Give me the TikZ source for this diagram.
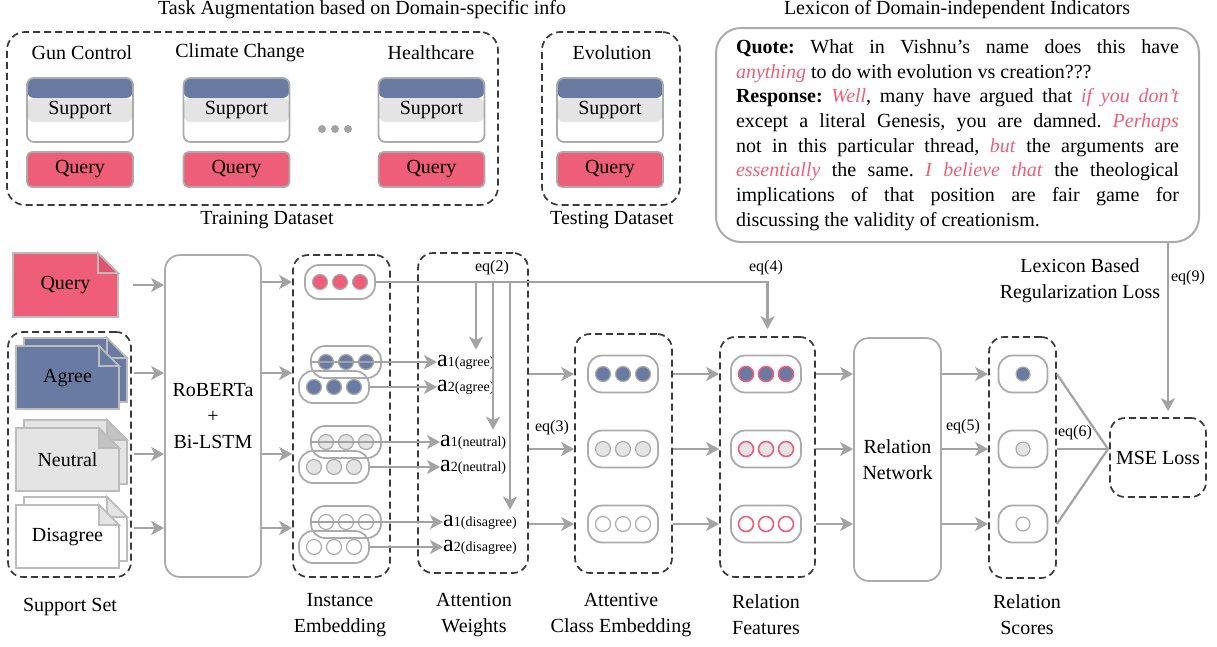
\documentclass[tikz,border=0pt]{standalone}
\usepackage{fontspec}
\setmainfont{Liberation Serif}
\usetikzlibrary{arrows.meta,positioning}
\definecolor{qpink}{HTML}{EE5E78}
\definecolor{ablue}{HTML}{6A7BA3}
\definecolor{lgray}{HTML}{E4E4E4}
\definecolor{lngray}{HTML}{A3A3A3}
\definecolor{bdgray}{HTML}{ABABAB}
\definecolor{dkgray}{HTML}{3A3A3A}
\newcommand{\lexhl}[1]{\textcolor{qpink}{\textit{#1}}}
\newcommand{\attw}[2]{{\fontsize{24}{24}\selectfont a}{\fontsize{14}{14}\selectfont #1(#2)}}

\begin{document}
\begin{tikzpicture}
  [x=1pt,y=-1pt,
    font=\fontsize{20}{26}\selectfont,
    dbox/.style={draw=dkgray,line width=1.7pt,dash pattern=on 7pt off 4pt,rounded corners=15pt,inner sep=0pt},
    gbox/.style={draw=bdgray,line width=1.8pt,rounded corners=15pt,align=center,inner sep=0pt},
    supbox/.style={draw=bdgray,line width=1.8pt,rounded corners=7pt,minimum width=106pt,minimum height=64pt,inner sep=0pt,
      path picture={\fill[ablue] (path picture bounding box.north west) rectangle ([yshift=-20pt]path picture bounding box.north east);
        \fill[lgray] ([yshift=-20pt]path picture bounding box.north west) rectangle ([yshift=-44pt]path picture bounding box.north east);}},
    qbox/.style={draw=bdgray,fill=qpink,line width=1.8pt,rounded corners=5pt,minimum width=106pt,minimum height=35pt,inner sep=0pt},
    doc/.style={draw=bdgray!80,line width=1.6pt},
    arr/.style={draw=lngray,line width=2.2pt,-{Stealth[length=13pt,width=14pt,inset=3.5pt]}},
    ln/.style={draw=lngray,line width=2.2pt},
    pill/.style={draw=bdgray,line width=1.8pt,rounded corners=14pt,minimum width=70pt,minimum height=#1,inner sep=0pt},
    pill/.default=34pt,
    dot/.style={circle,draw=bdgray,line width=1.2pt,minimum size=15pt,inner sep=0pt},
    eq/.style={font=\fontsize{16}{18}\selectfont,inner sep=1pt},
    aw/.style={anchor=west,inner sep=0pt},
]
  \useasboundingbox (0,0) rectangle (1217,646);

  % task augmentation
  \node (ttl) at (362,10) {Task Augmentation based on Domain-specific info};
  \node[dbox,minimum width=491pt,minimum height=173pt,rounded corners=18pt] (train) at (252.5,118.5) {};
  \node[dbox,minimum width=138pt,minimum height=173pt,rounded corners=18pt] (test) at (611,118.5) {};
  \node (trl) at (267,220) {Training Dataset};
  \node (tsl) at (612,220) {Testing Dataset};

  \node (gc) at (82,53) {Gun Control};
  \node (cc) at (240,53) {Climate Change};
  \node (hc) at (431,53) {Healthcare};
  \node (ev) at (612,53) {Evolution};

  \node[supbox] (sgc) at (80,110) {Support};
  \node[supbox] (scc) at (236.5,110) {Support};
  \node[supbox] (shc) at (431.5,110) {Support};
  \node[supbox] (sev) at (610,110) {Support};
  \node[qbox] (qgc) at (80,169.5) {Query};
  \node[qbox] (qcc) at (236.5,169.5) {Query};
  \node[qbox] (qhc) at (431.5,169.5) {Query};
  \node[qbox] (qev) at (610,169.5) {Query};

  \node[circle,fill=lngray,minimum size=8pt,inner sep=0pt] (el1) at (322,129) {};
  \node[circle,fill=lngray,minimum size=8pt,inner sep=0pt] (el2) at (335,129) {};
  \node[circle,fill=lngray,minimum size=8pt,inner sep=0pt] (el3) at (348,129) {};

  % lexicon
  \node (lxt) at (957,10) {Lexicon of Domain-independent Indicators};
  \node[draw=bdgray,line width=2pt,rounded corners=25pt,text width=443pt,inner xsep=20pt,inner ysep=0pt,
    minimum height=214pt,align=justify,font=\fontsize{20}{24.7}\selectfont] (lex) at (957.5,135)
    {\noindent\tolerance=10000\frenchspacing \textbf{Quote:} What in Vishnu's name does this have\linebreak
     \lexhl{anything} to do with evolution vs creation???\\
     \textbf{Response:} \lexhl{Well}, many have argued that \lexhl{if you don't}\linebreak
     except a literal Genesis, you are damned. \lexhl{Perhaps}\linebreak
     not in this particular thread, \lexhl{but} the arguments are\linebreak
     \lexhl{essentially} the same. \lexhl{I believe that} the theological\linebreak
     implications of that position are fair game for\linebreak
     discussing the validity of creationism.};
  \node[align=center] (lbr) at (1080,281) {Lexicon Based\\Regularization Loss};

  % support set
  \draw[doc,fill=qpink] (13,253) -- (98,253) -- (118,273) -- (118,317) -- (13,317) -- cycle;
  \draw[doc,fill=qpink!92!black] (98,253) -- (98,273) -- (118,273) -- cycle;
  \node[minimum width=105pt] (qdoc) at (65.5,285) {Query};

  \draw[doc,fill=ablue] (24,338) -- (107,338) -- (127,358) -- (127,402) -- (24,402) -- cycle;
  \draw[doc,fill=ablue] (107,338) -- (107,358) -- (127,358) -- cycle;
  \draw[doc,fill=ablue] (16,346) -- (99,346) -- (119,366) -- (119,409) -- (16,409) -- cycle;
  \draw[doc,fill=ablue] (99,346) -- (99,366) -- (119,366) -- cycle;
  \node (agr) at (67.5,378) {Agree};

  \draw[doc,fill=lgray] (24,420) -- (107,420) -- (127,440) -- (127,484) -- (24,484) -- cycle;
  \draw[doc,fill=lgray!85!black] (107,420) -- (107,440) -- (127,440) -- cycle;
  \draw[doc,fill=lgray] (16,428) -- (99,428) -- (119,448) -- (119,491) -- (16,491) -- cycle;
  \draw[doc,fill=lgray!85!black] (99,428) -- (99,448) -- (119,448) -- cycle;
  \node (neu) at (67.5,460) {Neutral};

  \draw[doc,fill=white] (24,497) -- (107,497) -- (127,517) -- (127,561) -- (24,561) -- cycle;
  \draw[doc,fill=lgray] (107,497) -- (107,517) -- (127,517) -- cycle;
  \draw[doc,fill=white] (16,505) -- (99,505) -- (119,525) -- (119,568) -- (16,568) -- cycle;
  \draw[doc,fill=lgray] (99,505) -- (99,525) -- (119,525) -- cycle;
  \node (dis) at (67.5,537) {Disagree};

  \node[dbox,minimum width=123pt,minimum height=245pt] (supset) at (69.5,454.5) {};
  \node (ssl) at (70,607) {Support Set};

  % encoder
  \node[gbox,minimum width=96pt,minimum height=322pt] (rob) at (213,416) {RoBERTa\\+\\Bi-LSTM};
  \coordinate (r1) at (0,373);
  \coordinate (r2) at (0,454);
  \coordinate (r3) at (0,528);

  \draw[arr] ([xshift=15pt]qdoc.east) -- (rob.west |- qdoc.east);
  \draw[arr] ([xshift=2pt]supset.east |- r1) -- (rob.west |- r1);
  \draw[arr] ([xshift=2pt]supset.east |- r2) -- (rob.west |- r2);
  \draw[arr] ([xshift=2pt]supset.east |- r3) -- (rob.west |- r3);

  % instance embedding
  \node[dbox,minimum width=97pt,minimum height=322pt] (inst) at (341.5,416) {};
  \node[align=center] (instl) at (340,615) {Instance\\Embedding};

  \node[pill] (qpill) at (340,282) {};
  \node[dot,fill=qpink] (qd1) at (320,282) {};
  \node[dot,fill=qpink] (qd2) at (340,282) {};
  \node[dot,fill=qpink] (qd3) at (360,282) {};

  \draw[arr] (rob.east |- qpill) -- (inst.west |- qpill);
  \draw[arr] (rob.east |- r1) -- (inst.west |- r1);
  \draw[arr] (rob.east |- r2) -- (inst.west |- r2);
  \draw[arr] (rob.east |- r3) -- (inst.west |- r3);

  \node[pill=32pt] (abk) at (346,362) {};
  \node[pill=32pt] (afr) at (334,387) {};
  \node[dot,fill=ablue] at (326,362) {};
  \node[dot,fill=ablue] at (346,362) {};
  \node[dot,fill=ablue] at (366,362) {};
  \node[dot,fill=ablue] at (314,387) {};
  \node[dot,fill=ablue] at (334,387) {};
  \node[dot,fill=ablue] at (354,387) {};

  \node[pill=32pt] (nbk) at (346,442) {};
  \node[pill=32pt] (nfr) at (334,467) {};
  \node[dot,fill=lgray] at (326,442) {};
  \node[dot,fill=lgray] at (346,442) {};
  \node[dot,fill=lgray] at (366,442) {};
  \node[dot,fill=lgray] at (314,467) {};
  \node[dot,fill=lgray] at (334,467) {};
  \node[dot,fill=lgray] at (354,467) {};

  \node[pill=32pt] (dbk) at (346,522) {};
  \node[pill=32pt] (dfr) at (334,547) {};
  \node[dot] at (326,522) {};
  \node[dot] at (346,522) {};
  \node[dot] at (366,522) {};
  \node[dot] at (314,547) {};
  \node[dot] at (334,547) {};
  \node[dot] at (354,547) {};

  % attention weights
  \node[dbox,minimum width=110pt,minimum height=320pt] (attn) at (473,413) {};
  \node[align=center] (attnl) at (474,615) {Attention\\Weights};

  \node[aw] (a1a) at (437,362) {\attw{1}{agree}};
  \node[aw] (a2a) at (437,387) {\attw{2}{agree}};
  \node[aw] (a1n) at (440,442) {\attw{1}{neutral}};
  \node[aw] (a2n) at (440,467) {\attw{2}{neutral}};
  \node[aw] (a1d) at (443,522) {\attw{1}{disagree}};
  \node[aw] (a2d) at (443,547) {\attw{2}{disagree}};

  \draw[arr] (abk.west) -- (a1a.west);
  \draw[arr] (afr.east) -- (a2a.west);
  \draw[arr] (nbk.west) -- (a1n.west);
  \draw[arr] (nfr.east) -- (a2n.west);
  \draw[arr] (dbk.west) -- (a1d.west);
  \draw[arr] (dfr.east) -- (a2d.west);

  \node[eq] (eq2) at (492,268) {eq(2)};
  \coordinate (b1) at (476,282);
  \coordinate (b2) at (493,282);
  \coordinate (b3) at (510,282);
  \draw[arr,shorten >=5pt] (b1) -- (b1 |- a1a.north);
  \draw[arr,shorten >=5pt] (b2) -- (b2 |- a1n.north);
  \draw[arr,shorten >=5pt] (b3) -- (b3 |- a1d.north);

  % attentive class embedding
  \node[dbox,minimum width=97pt,minimum height=239pt] (ace) at (623.5,453.5) {};
  \node[align=center] (acel) at (621,615) {Attentive\\Class Embedding};

  \node[pill=37pt] (cp1) at (623,374) {};
  \node[pill=37pt] (cp2) at (623,449) {};
  \node[pill=37pt] (cp3) at (623,524) {};
  \node[dot,fill=ablue] at (603,374) {};
  \node[dot,fill=ablue] at (623,374) {};
  \node[dot,fill=ablue] at (643,374) {};
  \node[dot,fill=lgray] at (603,449) {};
  \node[dot,fill=lgray] at (623,449) {};
  \node[dot,fill=lgray] at (643,449) {};
  \node[dot] at (603,524) {};
  \node[dot] at (623,524) {};
  \node[dot] at (643,524) {};

  \draw[arr] (attn.east |- cp1) -- (ace.west |- cp1);
  \draw[arr] (attn.east |- cp2) -- (ace.west |- cp2);
  \draw[arr] (attn.east |- cp3) -- (ace.west |- cp3);
  \node[eq] (eq3) at (552,428) {eq(3)};

  % relation features
  \node[dbox,minimum width=95pt,minimum height=240pt] (rf) at (767.5,457) {};
  \node[align=center] (rfl) at (766,615) {Relation\\Features};

  \draw[arr] (qpill.east) -| ([yshift=7pt]rf.north);
  \node[eq] (eq4) at (766,268) {eq(4)};

  \node[pill=37pt] (fp1) at (766,374) {};
  \node[pill=37pt] (fp2) at (766,449) {};
  \node[pill=37pt] (fp3) at (766,524) {};
  \node[dot,draw=qpink,line width=1.6pt,fill=ablue] at (746,374) {};
  \node[dot,draw=qpink,line width=1.6pt,fill=ablue] at (766,374) {};
  \node[dot,draw=qpink,line width=1.6pt,fill=ablue] at (786,374) {};
  \node[dot,draw=qpink,line width=1.6pt,fill=lgray] at (746,449) {};
  \node[dot,draw=qpink,line width=1.6pt,fill=lgray] at (766,449) {};
  \node[dot,draw=qpink,line width=1.6pt,fill=lgray] at (786,449) {};
  \node[dot,draw=qpink,line width=1.6pt] at (746,524) {};
  \node[dot,draw=qpink,line width=1.6pt] at (766,524) {};
  \node[dot,draw=qpink,line width=1.6pt] at (786,524) {};

  \draw[arr] (ace.east |- fp1) -- (rf.west |- fp1);
  \draw[arr] (ace.east |- fp2) -- (rf.west |- fp2);
  \draw[arr] (ace.east |- fp3) -- (rf.west |- fp3);

  % relation network and scores
  \node[gbox,minimum width=87pt,minimum height=243pt] (rn) at (897.5,459.5) {Relation\\Network};
  \draw[arr] (rf.east |- fp1) -- (rn.west |- fp1);
  \draw[arr] (rf.east |- fp2) -- (rn.west |- fp2);
  \draw[arr] (rf.east |- fp3) -- (rn.west |- fp3);

  \node[dbox,minimum width=67pt,minimum height=241pt] (rs) at (1022.5,457.5) {};
  \node[align=center] (rsl) at (1027,615) {Relation\\Scores};
  \node[pill=37pt,minimum width=49pt] (sp1) at (1023,374) {};
  \node[pill=37pt,minimum width=49pt] (sp2) at (1023,449) {};
  \node[pill=37pt,minimum width=49pt] (sp3) at (1023,524) {};
  \node[dot,minimum size=14pt,fill=ablue] at (1023,374) {};
  \node[dot,minimum size=14pt,fill=lgray] at (1023,449) {};
  \node[dot,minimum size=14pt] at (1023,524) {};

  \draw[arr] (rn.east |- sp1) -- (rs.west |- sp1);
  \draw[arr] (rn.east |- sp2) -- (rs.west |- sp2);
  \draw[arr] (rn.east |- sp3) -- (rs.west |- sp3);
  \node[eq] (eq5) at (963,427) {eq(5)};

  % loss
  \node[dbox,minimum width=96pt,minimum height=79pt] (mse) at (1158,457.5) {MSE Loss};
  \coordinate (cv) at (1108,449);
  \draw[ln] (rs.east |- sp1) -- (cv);
  \draw[ln] (rs.east |- sp2) -- (cv);
  \draw[ln] (rs.east |- sp3) -- (cv);
  \node[eq] (eq6) at (1075,433) {eq(6)};

  \coordinate (lx) at (1168,0);
  \draw[arr] (lex.south -| lx) -- ([yshift=6pt]mse.north -| lx);
  \node[eq] (eq9) at (1188,278) {eq(9)};

\end{tikzpicture}
\end{document}
